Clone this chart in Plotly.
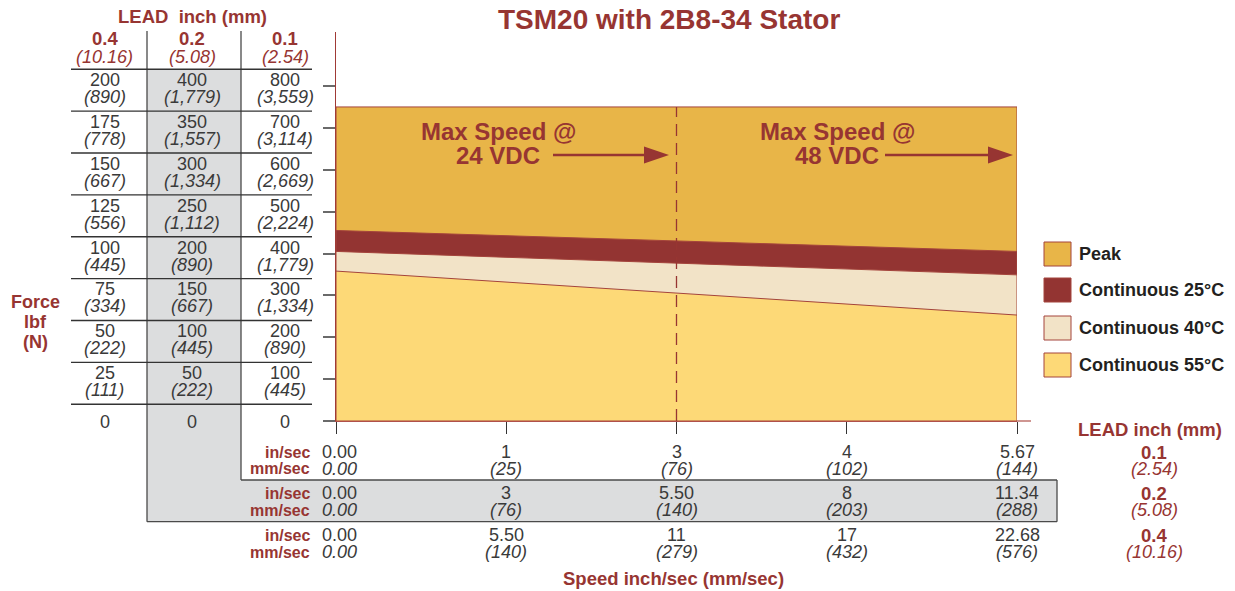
import plotly.graph_objects as go

# ---------------- data ----------------
title = "TSM20 with 2B8-34 Stator"
lead_in = ["0.4", "0.2", "0.1"]
lead_mm = ["(10.16)", "(5.08)", "(2.54)"]

force_ticks = [800, 700, 600, 500, 400, 300, 200, 100, 0]   # axis values (0.1 lead, lbf)
force_lbf_04 = ["200", "175", "150", "125", "100", "75", "50", "25", "0"]
force_N_04 = ["(890)", "(778)", "(667)", "(556)", "(445)", "(334)", "(222)", "(111)", ""]
force_lbf_02 = ["400", "350", "300", "250", "200", "150", "100", "50", "0"]
force_N_02 = ["(1,779)", "(1,557)", "(1,334)", "(1,112)", "(890)", "(667)", "(445)", "(222)", ""]
force_lbf_01 = ["800", "700", "600", "500", "400", "300", "200", "100", "0"]
force_N_01 = ["(3,559)", "(3,114)", "(2,669)", "(2,224)", "(1,779)", "(1,334)", "(890)", "(445)", ""]

speed_01_in = ["0.00", "1", "3", "4", "5.67"]
speed_01_mm = ["0.00", "(25)", "(76)", "(102)", "(144)"]
speed_02_in = ["0.00", "3", "5.50", "8", "11.34"]
speed_02_mm = ["0.00", "(76)", "(140)", "(203)", "(288)"]
speed_04_in = ["0.00", "5.50", "11", "17", "22.68"]
speed_04_mm = ["0.00", "(140)", "(279)", "(432)", "(576)"]

region_names = ["Peak", "Continuous 25°C", "Continuous 40°C", "Continuous 55°C"]
peak = [750, 750]
cont25 = [455, 405]
cont40 = [405, 349]
cont55 = [358, 253]
region_values = [peak, cont25, cont40, cont55]
region_colors = ["#E8B548", "#933432", "#F2E3C7", "#FDD977"]

max_speed_labels = ["24 VDC", "48 VDC"]
max_speed_index = [2, 4]   # tick index of the max-speed speeds

# ---------------- styling ----------------
RED = "#973532"
DARK = "#3a3a3a"
FONT = "Liberation Sans, Arial, sans-serif"
W_FIG, H_FIG = 1235, 591
L, R, T, B = 336, 1017, 32, 421
PW, PH = R - L, B - T
YMAX = PH / ((B - 86) / 800)


def xp(px):
    return (px - L) / PW


def yp(py):
    return (B - py) / PH


fig = go.Figure()
n = len(speed_01_in)
x_ends = [0, n - 1]

for name, vals, col in zip(region_names, region_values, region_colors):
    fig.add_trace(go.Scatter(
        x=[x_ends[0], x_ends[0], x_ends[1], x_ends[1], x_ends[0]],
        y=[0, vals[0], vals[1], 0, 0],
        fill="toself", fillcolor=col, mode="lines",
        line=dict(color="#A4443C", width=1), name=name, showlegend=False,
        hoverinfo="name"))

# dashed max speed line at 24 VDC
fig.add_trace(go.Scatter(
    x=[max_speed_index[0], max_speed_index[0]], y=[0, peak[0]], mode="lines",
    line=dict(color=RED, width=1.3, dash="12px,7px"), showlegend=False, hoverinfo="skip"))

shapes = []
ann = []


def line(x0, y0, x1, y1, color="#4a4a4a", width=1.3):
    shapes.append(dict(type="line", xref="paper", yref="paper", x0=xp(x0), x1=xp(x1),
                       y0=yp(y0), y1=yp(y1), line=dict(color=color, width=width)))


def rect(x0, y0, x1, y1, fill, lc=None, lw=0):
    shapes.append(dict(type="rect", xref="paper", yref="paper", x0=xp(x0), x1=xp(x1),
                       y0=yp(y0), y1=yp(y1), fillcolor=fill,
                       line=dict(color=lc or fill, width=lw), layer="below"))


def text(px, py, s, size=18, color=DARK, anchor="center", bold=False, italic=False):
    if bold:
        s = "<b>" + s + "</b>"
    if italic:
        s = "<i>" + s + "</i>"
    ann.append(dict(xref="paper", yref="paper", x=xp(px), y=yp(py), text=s, showarrow=False,
                    xanchor=anchor, yanchor="middle",
                    font=dict(family=FONT, size=size, color=color)))


# gray L-shaped zone for 0.2 lead
rect(147, 69, 241, 521.7, "#DCDDDE")
rect(147, 480, 1057, 521.7, "#DCDDDE")
line(147, 31, 147, 521.7)
line(241, 31, 241, 480)
line(241, 480, 1057, 480)
line(147, 521.7, 1057, 521.7)
line(1057, 480, 1057, 521.7)

# table header
text(192, 16, "LEAD  inch (mm)", size=18.5, color=RED, bold=True)
col_x = [104.5, 192, 285]
for cx, li, lm in zip(col_x, lead_in, lead_mm):
    text(cx, 39, li, size=18.5, color=RED, bold=True)
    text(cx, 57, lm, size=18, color=RED, italic=True)

# table rows (aligned on force axis ticks)
for i, f in enumerate(force_ticks):
    shapes.append(dict(type="line", xref="paper", yref="y", x0=xp(71), x1=xp(312),
                       y0=f + 40, y1=f + 40, line=dict(color="#333333", width=1.3)))
    for cx, top, bot in zip(col_x, [force_lbf_04, force_lbf_02, force_lbf_01],
                            [force_N_04, force_N_02, force_N_01]):
        if bot[i]:
            ann.append(dict(xref="paper", yref="y", x=xp(cx), y=f, yshift=6, text=top[i],
                            showarrow=False, xanchor="center", yanchor="middle",
                            font=dict(family=FONT, size=18, color=DARK)))
            ann.append(dict(xref="paper", yref="y", x=xp(cx), y=f, yshift=-11,
                            text="<i>" + bot[i] + "</i>",
                            showarrow=False, xanchor="center", yanchor="middle",
                            font=dict(family=FONT, size=18, color=DARK)))
        else:
            ann.append(dict(xref="paper", yref="y", x=xp(cx), y=f, yshift=-1, text=top[i],
                            showarrow=False, xanchor="center", yanchor="middle",
                            font=dict(family=FONT, size=18, color=DARK)))

# Force axis title
text(35, 302, "Force", size=18, color=RED, bold=True)
text(35, 322, "lbf", size=18, color=RED, bold=True)
text(35, 342, "(N)", size=18, color=RED, bold=True)

# bottom speed tables
speed_rows = [(speed_01_in, speed_01_mm, 452, 469),
              (speed_02_in, speed_02_mm, 493, 510),
              (speed_04_in, speed_04_mm, 535, 552)]
for sin, smm, y1, y2 in speed_rows:
    text(312, y1, "in/sec", size=16, color=RED, anchor="right", bold=True)
    text(312, y2, "mm/sec", size=16, color=RED, anchor="right", bold=True)
    for k in range(n):
        shift = 3 if k == 0 else 0
        ann.append(dict(xref="x", yref="paper", x=k, y=yp(y1), xshift=shift, text=sin[k],
                        showarrow=False, xanchor="center", yanchor="middle",
                        font=dict(family=FONT, size=18, color=DARK)))
        ann.append(dict(xref="x", yref="paper", x=k, y=yp(y2), xshift=shift,
                        text="<i>" + smm[k] + "</i>",
                        showarrow=False, xanchor="center", yanchor="middle",
                        font=dict(family=FONT, size=18, color=DARK)))

text(673, 578, "Speed inch/sec (mm/sec)", size=18.5, color=RED, bold=True)

# right lead labels
text(1150, 429, "LEAD inch (mm)", size=18.5, color=RED, bold=True)
for (li, lm), (_, _, y1, y2) in zip(zip(lead_in[::-1], lead_mm[::-1]), speed_rows):
    text(1154, y1, li, size=18.5, color=RED, bold=True)
    text(1154, y2, lm, size=18, color=RED, italic=True)

# title
text(669, 20, title, size=28, color=RED, bold=True)

# max speed labels + arrows
for lab, cx, ax0, ax1 in zip(max_speed_labels, [498, 837], [553, 885], [669, 1013]):
    text(cx, 131, "Max Speed @", size=24, color=RED, bold=True)
    text(cx, 155, lab, size=24, color=RED, bold=True)
    line(ax0, 155, ax1 - 22, 155, color=RED, width=2.5)
    shapes.append(dict(type="path", xref="paper", yref="paper",
                       path=f"M {xp(ax1 - 25)} {yp(146.5)} L {xp(ax1)} {yp(155)} L {xp(ax1 - 25)} {yp(163.5)} Z",
                       fillcolor=RED, line=dict(color=RED, width=0)))

# bottom axis extension
line(1017, 421, 1031, 421, color="#B0504A", width=1.2)

# legend
for name, col, cy in zip(region_names, region_colors, [254, 290, 328, 365]):
    shapes.append(dict(type="rect", xref="paper", yref="paper", x0=xp(1044), x1=xp(1071),
                       y0=yp(cy - 12), y1=yp(cy + 12), fillcolor=col,
                       line=dict(color="#A4443C", width=1)))
    text(1077, cy, name, size=18, color="#231F20", anchor="left", bold=True)

fig.update_layout(
    width=W_FIG, height=H_FIG, autosize=False,
    margin=dict(l=L, r=W_FIG - R, t=T, b=H_FIG - B, pad=0),
    paper_bgcolor="white", plot_bgcolor="white",
    shapes=shapes, annotations=ann, showlegend=False,
    font=dict(family=FONT),
    xaxis=dict(range=[0, n - 1], tickvals=list(range(n)), showticklabels=False,
               ticks="outside", ticklen=12, tickcolor="#333333", tickwidth=1.3,
               showline=True, linecolor="#B0504A", linewidth=1.2,
               showgrid=False, zeroline=False, fixedrange=True),
    yaxis=dict(range=[0, YMAX], tickvals=force_ticks, showticklabels=False,
               ticks="outside", ticklen=12, tickcolor="#6a6a6a", tickwidth=1.5,
               showline=True, linecolor="#A03A36", linewidth=1.2,
               showgrid=False, zeroline=False, fixedrange=True),
)

fig.write_html("out.html", config={"displayModeBar": False},
               post_script="document.body.style.margin='0px';document.body.style.overflow='hidden';")
